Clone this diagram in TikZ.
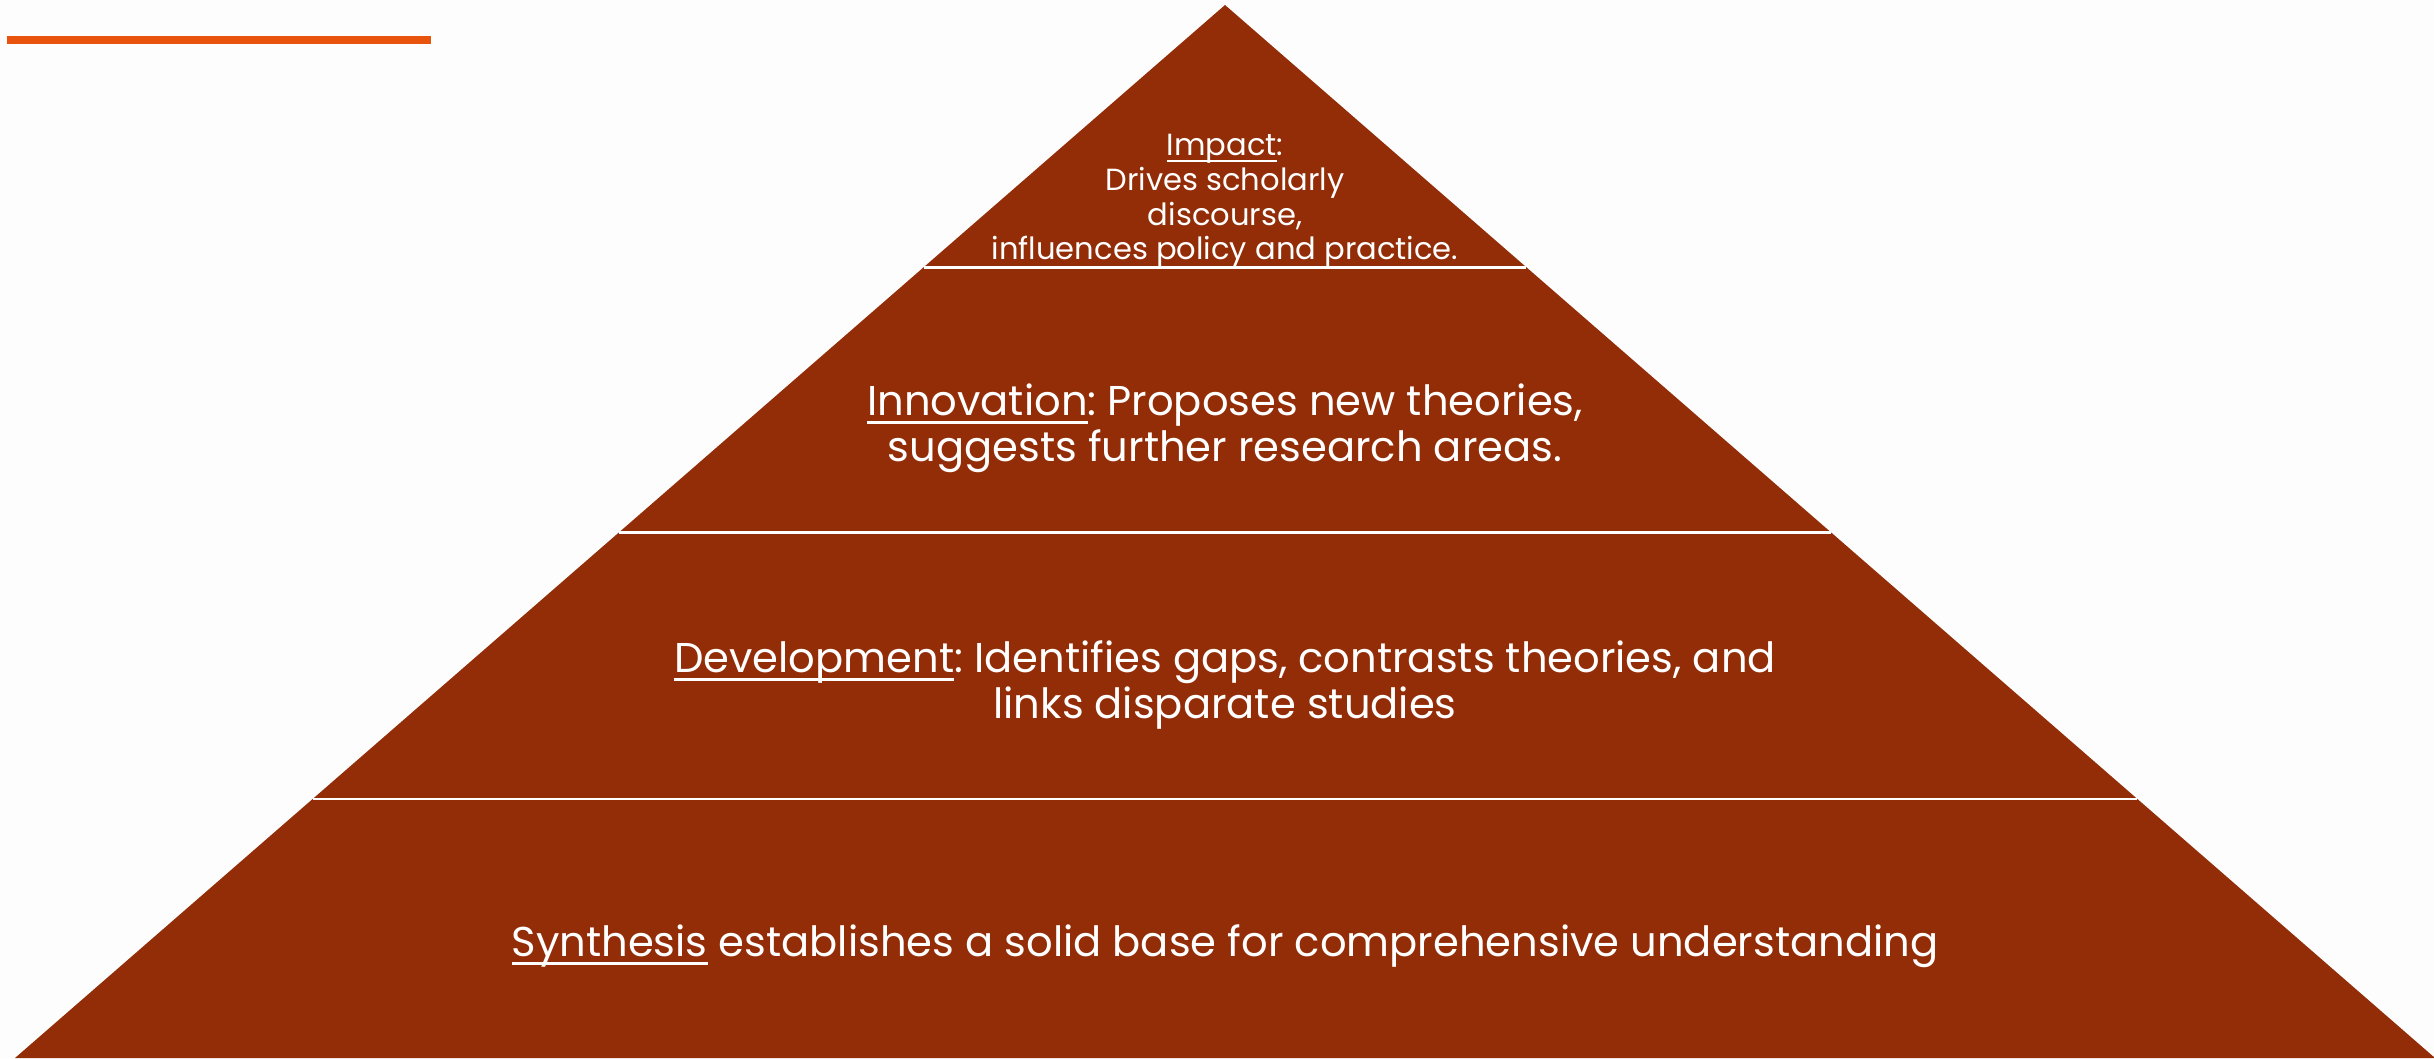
\documentclass[tikz,border=0pt]{standalone}
\usepackage{fontspec}
\setmainfont{Poppins}
\usepackage{tikz}
\usetikzlibrary{calc}
\definecolor{pyramidbrown}{HTML}{922D07}
\definecolor{accentorange}{HTML}{E8530E}
\definecolor{paper}{HTML}{FDFDFD}
\newcommand{\undl}[1]{\setbox0\hbox{#1}\rlap{\rule[-0.2em]{\wd0}{0.06em}}\box0\relax}
\frenchspacing
\tikzset{
	% ---- default
	every path/.style={line width=0.3pt},
	every node/.style={font=\normalsize},
	% ---- custom
	layer/.style={fill=pyramidbrown, draw=none},
	separator/.style={line width=0.8pt, draw=white},
	accent/.style={line width=0.08cm, draw=accentorange},
	label/.style={text=white, align=center, inner sep=0pt,
		font=\fontsize{11.85}{13.1}\selectfont},
	toplabel/.style={text=white, align=center, inner sep=0pt,
		font=\fontsize{8.7}{9.9}\selectfont},
}

\begin{document}
\begin{tikzpicture}[scale=1.0]

% canvas %{{{2

	\fill[paper] (0,0) rectangle (24.34,10.58);
	\useasboundingbox (0,0) rectangle (24.34,10.58);

% coordinates %{{{2

	\coordinate (apex) at (12.25,10.53);
	\coordinate (baseL) at (0.15,0);
	\coordinate (baseR) at (24.35,0);
	\coordinate (accentL) at (0.07,10.18);
	\coordinate (accentR) at (4.31,10.18);

% pyramid %{{{2

	\path[layer] (apex) -- (baseL) -- (baseR) -- cycle;

% separators %{{{2

	\foreach \t in {0.249,0.501,0.754}{
		\draw[separator] ($(apex)!\t!(baseL)$) -- ($(apex)!\t!(baseR)$);
	}

% accent bar %{{{2

	\draw[accent] (accentL) -- (accentR);

% layer labels %{{{2

	\node[toplabel] (impact) at (12.25,8.57)
		{\undl{Impact}:\\Drives scholarly\\discourse,\\influences policy and practice.};
	\node[label] (innovation) at (12.25,6.30)
		{\undl{Innovation}: Proposes new theories,\\suggests further research areas.};
	\node[label] (development) at (12.25,3.73)
		{\undl{Development}: Identifies gaps, contrasts theories, and\\links disparate studies};
	\node[label] (synthesis) at (12.25,1.12)
		{\undl{Synthesis} establishes a solid base for comprehensive understanding};

% closing %{{{2

\end{tikzpicture}
\end{document}
